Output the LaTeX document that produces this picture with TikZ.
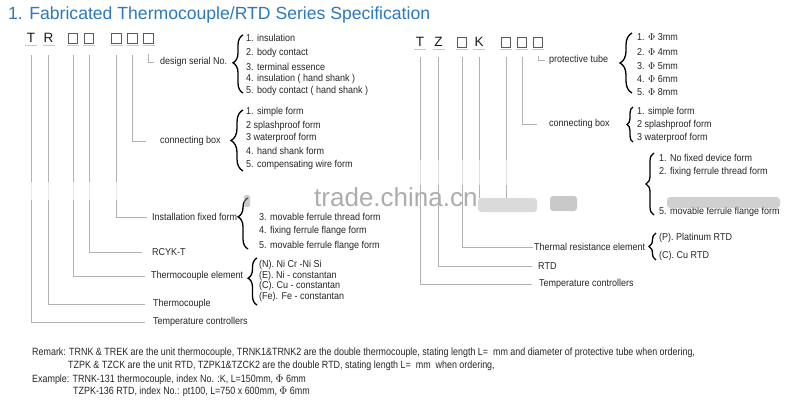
\documentclass[tikz,border=0pt]{standalone}
\usepackage{fontspec}
\setmainfont{Liberation Sans}
\newfontfamily\nar[FakeStretch=0.9]{Liberation Sans}
\newfontfamily\narr[FakeStretch=0.85]{Liberation Sans}
\usetikzlibrary{decorations.pathreplacing}
\definecolor{titleblue}{RGB}{45,120,190}
\definecolor{lineg}{RGB}{178,178,178}
\definecolor{ulg}{RGB}{200,200,200}
\definecolor{boxg}{RGB}{90,90,90}
\begin{document}
\begin{tikzpicture}[x=1pt,y=-1pt,
  conn/.style={draw=lineg, line width=0.9pt},
  ul/.style={draw=ulg, line width=1pt},
  codech/.style={inner sep=0pt, minimum width=10pt, minimum height=12pt, font=\fontsize{13.5}{14}\selectfont, text=black!90},
  codebox/.style={draw=boxg, line width=0.8pt, inner sep=0pt, minimum width=9.5pt, minimum height=10pt},
  lbl/.style={anchor=west, inner sep=1pt, font=\nar\fontsize{10}{11}\selectfont, text=black!85},
  itm/.style={anchor=west, inner sep=1pt, font=\nar\fontsize{10}{11}\selectfont, text=black!85},
  rem/.style={anchor=west, inner sep=0pt, font=\narr\fontsize{10.5}{11}\selectfont, text=black!85},
  brc/.style args={#1/#2}{decorate, decoration={brace, amplitude=#1, aspect=#2}, line width=1.3pt},
]
\useasboundingbox (0,0) rectangle (800,412);
\fill[white] (0,0) rectangle (800,412);

% title
\node[anchor=west, inner sep=0pt, font=\fontsize{17.6}{19}\selectfont, text=titleblue] (title) at (8,15) {1. Fabricated Thermocouple/RTD Series Specification};

% watermark
\node[anchor=base west, inner sep=0pt, font=\fontsize{26}{26}\selectfont, text=black!32] (wm) at (314,206) {trade.china.cn};

% ---------------- left code ----------------
\node[codech] (LT) at (31,38) {T};
\node[codech] (LR) at (48.5,38) {R};
\node[codebox] (LB1) at (73,38) {};
\node[codebox] (LB2) at (89,38) {};
\node[codebox] (LB3) at (116.5,38) {};
\node[codebox] (LB4) at (132.5,38) {};
\node[codebox] (LB5) at (148.5,38) {};
\foreach \n in {LT,LR,LB1,LB2,LB3,LB4,LB5}{
  \draw[ul] ([shift={(-6pt,-8pt)}]\n.center) -- ([shift={(6pt,-8pt)}]\n.center);
}

% left labels
\node[lbl] (dsn) at (159,62) {design serial No.};
\node[lbl] (cbL) at (159,141) {connecting box};
\node[lbl] (ifL) at (151,217) {Installation fixed form};
\node[lbl] (rcyk) at (151,252) {RCYK-T};
\node[lbl] (teL) at (150,276) {Thermocouple element};
\node[lbl] (thc) at (152,304) {Thermocouple};
\node[lbl] (tcL) at (152,322) {Temperature controllers};

\draw[conn] ([yshift=-16pt]LB5.center) |- ([xshift=-5pt]dsn.west);
\draw[conn] ([yshift=-17pt]LB4.center) |- ([xshift=-13pt]cbL.west);
\draw[conn] ([yshift=-17pt]LB3.center) |- ([xshift=-4pt]ifL.west);
\draw[conn] ([yshift=-17pt]LB2.center) |- ([xshift=-9pt]rcyk.west);
\draw[conn] ([yshift=-17pt]LB1.center) |- ([xshift=-5pt]teL.west);
\draw[conn] ([yshift=-17pt]LR.center) |- ([xshift=-7pt]thc.west);
\draw[conn] ([yshift=-17pt]LT.center) |- ([xshift=-7pt]tcL.west);

% left items
\draw[brc=10pt/0.52] (243,93) -- (243,35);
\node[itm] at (245,38) {1. insulation};
\node[itm] at (245,53) {2. body contact};
\node[itm] at (245,67) {3. terminal essence};
\node[itm] at (245,79) {4. insulation ( hand shank )};
\node[itm] at (245,91) {5. body contact ( hand shank )};

\draw[brc=12pt/0.5] (243,171) -- (243,110);
\node[itm] at (245,112) {1. simple form};
\node[itm] at (245,126) {2 splashproof form};
\node[itm] at (245,138) {3 waterproof form};
\node[itm] at (245,151) {4. hand shank form};
\node[itm] at (245,165) {5. compensating wire form};

\draw[brc=10pt/0.63] (248,249) -- (248,198);
\node[itm] at (258,217) {3. movable ferrule thread form};
\node[itm] at (258,231) {4. fixing ferrule flange form};
\node[itm] at (258,246) {5. movable ferrule flange form};

\draw[brc=9pt/0.57] (257,305) -- (257,258);
\node[itm] at (258,265) {(N). Ni Cr -Ni Si};
\node[itm] at (258,276) {(E). Ni - constantan};
\node[itm] at (258,286) {(C). Cu - constantan};
\node[itm] at (258,297) {(Fe). Fe - constantan};

% ---------------- right code ----------------
\node[codech] (RT) at (420,42) {T};
\node[codech] (RZ) at (438.5,42) {Z};
\node[codebox] (RB1) at (462,42) {};
\node[codech] (RK) at (479,42) {K};
\node[codebox] (RB2) at (506,42) {};
\node[codebox] (RB3) at (522,42) {};
\node[codebox] (RB4) at (538,42) {};
\foreach \n in {RT,RZ,RB1,RK,RB2,RB3,RB4}{
  \draw[ul] ([shift={(-6pt,-8pt)}]\n.center) -- ([shift={(6pt,-8pt)}]\n.center);
}

\node[lbl] (ptube) at (548,60) {protective tube};
\node[lbl] (cbR) at (548,124) {connecting box};
\node[lbl] (tre) at (533,247) {Thermal resistance element};
\node[lbl] (rtd) at (537,266) {RTD};
\node[lbl] (tcR) at (538,284) {Temperature controllers};
\coordinate (endK) at (479,198);
\coordinate (endB2) at (506,198);

\draw[conn] ([yshift=-14pt]RB4.center) |- ([xshift=-3pt]ptube.west);
\draw[conn] ([yshift=-15pt]RB3.center) |- ([xshift=-11pt]cbR.west);
\draw[conn] ([yshift=-15pt]RB2.center) -- (endB2);
\draw[conn] ([yshift=-15pt]RK.center) -- (endK);
\draw[conn] ([yshift=-15pt]RB1.center) |- (tre.west);
\draw[conn] ([yshift=-15pt]RZ.center) |- ([xshift=-5pt]rtd.west);
\draw[conn] ([yshift=-15pt]RT.center) |- ([xshift=-6pt]tcR.west);

\draw[brc=12pt/0.5] (632,93) -- (632,33);
\node[itm] at (636,37) {1. $\Phi$ 3mm};
\node[itm] at (636,52) {2. $\Phi$ 4mm};
\node[itm] at (636,66) {3. $\Phi$ 5mm};
\node[itm] at (636,79) {4. $\Phi$ 6mm};
\node[itm] at (636,92) {5. $\Phi$ 8mm};

\draw[brc=6pt/0.5] (633,142) -- (633,107);
\node[itm] at (636,112) {1. simple form};
\node[itm] at (636,125) {2 splashproof form};
\node[itm] at (636,138) {3 waterproof form};

\draw[brc=8pt/0.5] (654,215) -- (654,153);
\node[itm] at (658,158) {1. No fixed device form};
\node[itm] at (658,172) {2. fixing ferrule thread form};
\node[itm] at (658,212) {5. movable ferrule flange form};

\draw[brc=7pt/0.5] (656,260) -- (656,233);
\node[itm] at (658,238) {(P). Platinum RTD};
\node[itm] at (658,256) {(C). Cu RTD};

% watermark smudges
\fill[white, opacity=0.7] (20,182) rectangle (125,200);
\fill[white, opacity=0.6] (410,160) rectangle (515,185);
\fill[black!18, opacity=0.8, rounded corners=3pt] (478,198) rectangle (537,212);
\fill[black!35, opacity=0.6, rounded corners=3pt] (550,196) rectangle (577,211);
\fill[black!30, opacity=0.6, rounded corners=3pt] (667,197) rectangle (780,208);
\fill[black!40, opacity=0.5, rounded corners=2pt] (244,195) rectangle (250,207);

% remarks
\node[rem] (r1) at (32,353) {Remark: TRNK \& TREK are the unit thermocouple, TRNK1\&TRNK2 are the double thermocouple, stating length L=\ \ mm and diameter of protective tube when ordering,};
\node[rem] (r2) at (68,366) {TZPK \& TZCK are the unit RTD, TZPK1\&TZCK2 are the double RTD, stating length L=\ \ mm\ \ when ordering,};
\node[rem] (r3) at (32,380) {Example: TRNK-131 thermocouple, index No. :K, L=150mm, $\Phi$ 6mm};
\node[rem] (r4) at (73,392) {TZPK-136 RTD, index No.: pt100, L=750 x 600mm, $\Phi$ 6mm};
\end{tikzpicture}
\end{document}
